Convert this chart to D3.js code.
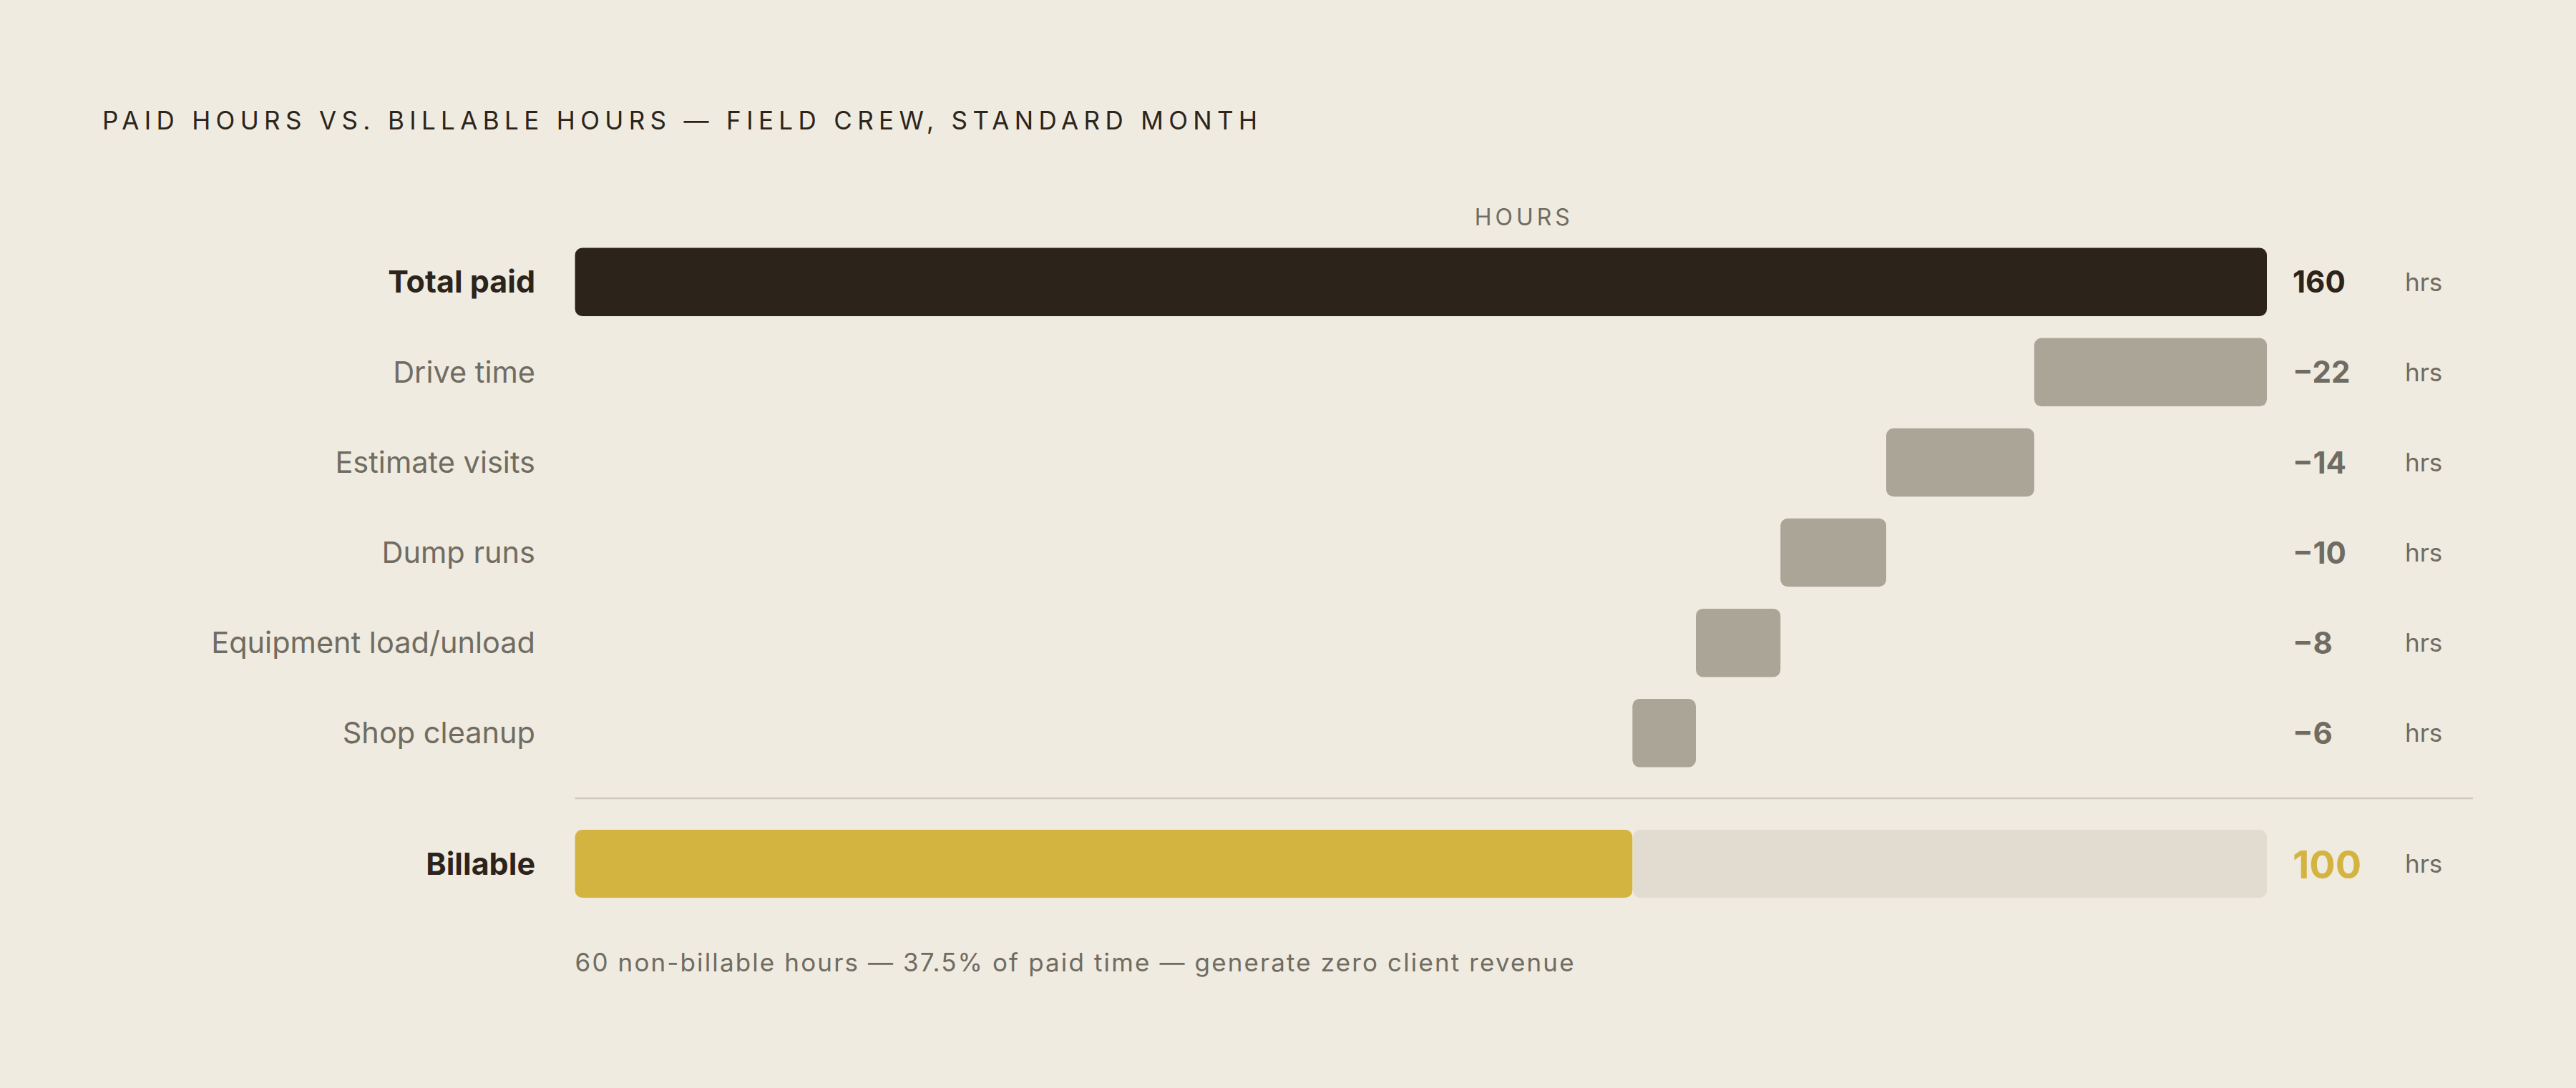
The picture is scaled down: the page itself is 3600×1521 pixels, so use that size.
<!DOCTYPE html>
<html>
<head>
<meta charset="utf-8">
<script src="https://cdn.jsdelivr.net/npm/d3@7"></script>
<style>
  html, body { margin: 0; padding: 0; background: #efebe1; }
  svg { display: block; }
  text { font-family: "Inter", "DejaVu Sans", sans-serif; }
</style>
</head>
<body>
<svg id="chart" width="3600" height="1521"></svg>
<script>
const titleText = "PAID HOURS VS. BILLABLE HOURS — FIELD CREW, STANDARD MONTH";
const axisLabel = "HOURS";
const unitLabel = "hrs";
const totalLabel = "Total paid";
const totalValue = 160;
const deductionCategories = ["Drive time", "Estimate visits", "Dump runs", "Equipment load/unload", "Shop cleanup"];
const deductionValues = [22, 14, 10, 8, 6];
const billableLabel = "Billable";
const billableValue = 100;
const footnote = "60 non-billable hours — 37.5% of paid time — generate zero client revenue";

const C = {
  bg: "#efebe1", dark: "#2c241a", gray: "#aba597", gold: "#d4b441",
  track: "#e1dbd0", label: "#706c61", rule: "#cfc9bc"
};

const svg = d3.select("#chart");
svg.append("rect").attr("width", 3600).attr("height", 1521).attr("fill", C.bg);

const x = d3.scaleLinear().domain([0, totalValue]).range([803.6, 3168]);
const rows = [totalLabel, ...deductionCategories];
const y = d3.scaleBand().domain(rows).range([331.2, 1087.8]).paddingInner(0.243).paddingOuter(0.1215);
const bh = y.bandwidth();
const R = 10;

function fitSpacing(sel, target, n) {
  const natural = sel.node().getComputedTextLength();
  sel.attr("letter-spacing", (target - natural) / (n - 1));
}

// Title
const title = svg.append("text").attr("x", 143).attr("y", 181)
  .attr("font-size", 35).attr("fill", C.dark).attr("font-weight", 400)
  .text(titleText);
fitSpacing(title, 1614, titleText.length);

// Axis label
const plotRight = 3456;
svg.append("text").attr("x", (x.range()[0] + plotRight) / 2).attr("y", 315)
  .attr("text-anchor", "middle").attr("font-size", 32).attr("letter-spacing", 5)
  .attr("fill", C.label).text(axisLabel);

// Build waterfall data
let cum = totalValue;
const items = [{ name: totalLabel, start: 0, end: totalValue, value: totalValue, total: true }];
deductionCategories.forEach((c, i) => {
  const v = deductionValues[i];
  items.push({ name: c, start: cum - v, end: cum, value: -v, total: false });
  cum -= v;
});

const g = svg.append("g");
g.selectAll("rect.bar").data(items).join("rect")
  .attr("class", "bar")
  .attr("x", d => x(d.start))
  .attr("y", d => y(d.name))
  .attr("width", d => x(d.end) - x(d.start))
  .attr("height", bh)
  .attr("rx", R).attr("ry", R)
  .attr("fill", d => d.total ? C.dark : C.gray);

// Category labels
g.selectAll("text.cat").data(items).join("text")
  .attr("class", "cat")
  .attr("x", 748).attr("y", d => y(d.name) + bh / 2)
  .attr("dy", "0.35em").attr("text-anchor", "end")
  .attr("font-size", d => d.total ? 43 : 41.5)
  .attr("font-weight", d => d.total ? 700 : 400)
  .attr("fill", d => d.total ? C.dark : C.label)
  .text(d => d.name);

// Value labels
g.selectAll("text.val").data(items).join("text")
  .attr("class", "val")
  .attr("x", x(totalValue) + 36).attr("y", d => y(d.name) + bh / 2)
  .attr("dy", "0.36em")
  .attr("font-size", 42).attr("font-weight", 700)
  .attr("fill", d => d.total ? C.dark : C.label)
  .text(d => d.value < 0 ? "\u2212" + Math.abs(d.value) : d.value);

g.selectAll("text.unit").data(items).join("text")
  .attr("class", "unit")
  .attr("x", 3361).attr("y", d => y(d.name) + bh / 2)
  .attr("dy", "0.36em")
  .attr("font-size", 35).attr("fill", C.label)
  .text(unitLabel);

// Separator rule
svg.append("line").attr("x1", x(0)).attr("x2", plotRight)
  .attr("y1", 1116).attr("y2", 1116)
  .attr("stroke", C.rule).attr("stroke-width", 2.3);

// Billable row
const by = 1160, bH = 95;
svg.append("rect").attr("x", x(billableValue) + 1).attr("y", by)
  .attr("width", x(totalValue) - x(billableValue) - 1).attr("height", bH)
  .attr("rx", R).attr("ry", R).attr("fill", C.track);
svg.append("rect").attr("x", x(0)).attr("y", by)
  .attr("width", x(billableValue) - x(0)).attr("height", bH)
  .attr("rx", R).attr("ry", R).attr("fill", C.gold);
svg.append("text").attr("x", 748).attr("y", by + bH / 2).attr("dy", "0.35em")
  .attr("text-anchor", "end").attr("font-size", 43).attr("font-weight", 700)
  .attr("fill", C.dark).text(billableLabel);
svg.append("text").attr("x", x(totalValue) + 36).attr("y", by + bH / 2).attr("dy", "0.38em")
  .attr("font-size", 54).attr("font-weight", 700).attr("fill", C.gold).text(billableValue);
svg.append("text").attr("x", 3361).attr("y", by + bH / 2).attr("dy", "0.36em")
  .attr("font-size", 35).attr("fill", C.label).text(unitLabel);

// Footnote
const fn = svg.append("text").attr("x", x(0)).attr("y", 1358)
  .attr("font-size", 35).attr("fill", C.label)
  .text(footnote);
fitSpacing(fn, 1396, footnote.length);
</script>
</body>
</html>
